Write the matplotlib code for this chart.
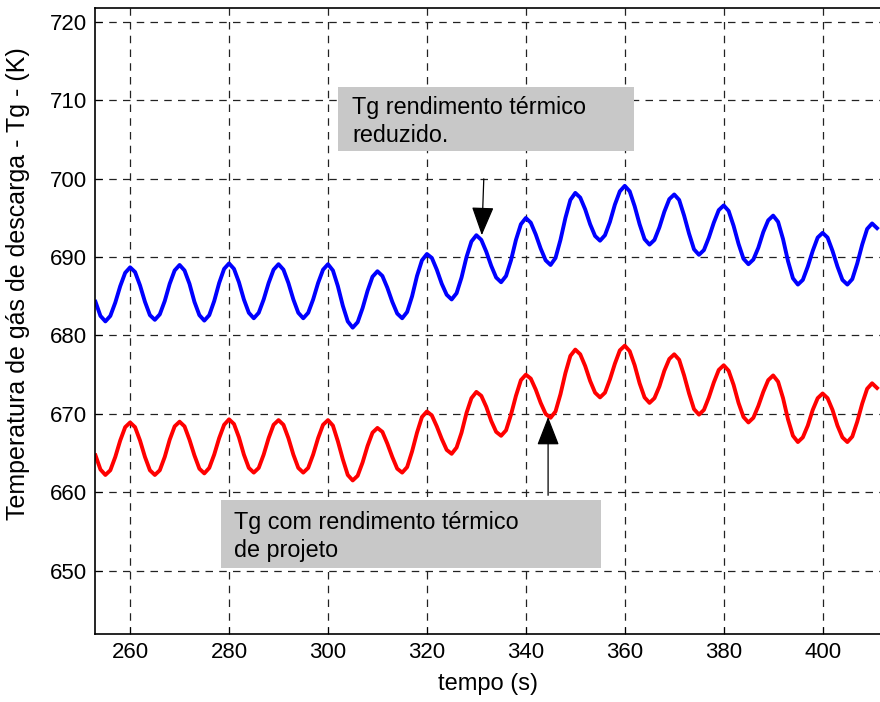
import numpy as np
import matplotlib.pyplot as plt
from matplotlib.patches import Rectangle

plt.rcParams['font.family'] = ['Liberation Sans', 'DejaVu Sans']

# tempo (s), amostrado a cada 1 s
tempo = np.arange(253, 412)

# Tg com rendimento termico reduzido (K)
tg_reduzido = [
    684.3, 682.5, 681.8, 682.5, 684.2, 686.3, 688.0, 688.7, 688.1, 686.4,
    684.3, 682.6, 682.0, 682.7, 684.4, 686.6, 688.3, 689.0, 688.3, 686.6,
    684.3, 682.6, 681.9, 682.6, 684.4, 686.7, 688.5, 689.2, 688.5, 686.8,
    684.6, 682.9, 682.2, 682.9, 684.6, 686.7, 688.4, 689.1, 688.4, 686.7,
    684.6, 682.9, 682.2, 682.9, 684.6, 686.7, 688.4, 689.1, 688.3, 686.3,
    683.8, 681.8, 681.0, 681.7, 683.5, 685.7, 687.5, 688.2, 687.6, 686.1,
    684.3, 682.8, 682.2, 683.0, 685.0, 687.6, 689.6, 690.4, 689.9, 688.4,
    686.6, 685.2, 684.6, 685.4, 687.4, 690.0, 692.0, 692.8, 692.2, 690.7,
    688.9, 687.4, 686.8, 687.6, 689.6, 692.2, 694.2, 695.0, 694.4, 692.9,
    691.1, 689.6, 689.0, 689.9, 692.2, 695.0, 697.3, 698.2, 697.6, 696.1,
    694.2, 692.7, 692.1, 692.8, 694.5, 696.7, 698.4, 699.1, 698.4, 696.5,
    694.2, 692.3, 691.6, 692.2, 693.8, 695.8, 697.4, 698.0, 697.3, 695.3,
    693.0, 691.0, 690.3, 690.9, 692.5, 694.4, 696.0, 696.6, 695.9, 694.0,
    691.7, 689.8, 689.1, 689.7, 691.2, 693.2, 694.7, 695.3, 694.5, 692.3,
    689.5, 687.3, 686.5, 687.1, 688.8, 690.8, 692.5, 693.1, 692.5, 690.8,
    688.8, 687.1, 686.5, 687.2, 689.2, 691.6, 693.6, 694.3, 693.7,
]

# Tg com rendimento termico de projeto (K)
tg_projeto = [
    664.7, 662.9, 662.2, 662.8, 664.5, 666.6, 668.3, 668.9, 668.3, 666.6,
    664.5, 662.8, 662.2, 662.8, 664.5, 666.7, 668.4, 669.0, 668.4, 666.7,
    664.7, 663.0, 662.4, 663.1, 664.8, 666.9, 668.6, 669.3, 668.7, 667.0,
    664.8, 663.1, 662.5, 663.1, 664.8, 666.9, 668.6, 669.2, 668.6, 666.9,
    664.8, 663.1, 662.5, 663.1, 664.8, 666.9, 668.6, 669.2, 668.5, 666.5,
    664.2, 662.2, 661.5, 662.1, 663.8, 665.9, 667.6, 668.2, 667.7, 666.2,
    664.5, 663.0, 662.5, 663.2, 665.2, 667.6, 669.6, 670.3, 669.8, 668.4,
    666.8, 665.4, 664.9, 665.7, 667.6, 670.1, 672.0, 672.8, 672.3, 670.9,
    669.1, 667.7, 667.2, 667.9, 669.9, 672.3, 674.3, 675.0, 674.5, 673.1,
    671.4, 670.0, 669.5, 670.3, 672.5, 675.2, 677.4, 678.2, 677.6, 676.1,
    674.2, 672.7, 672.1, 672.7, 674.4, 676.4, 678.1, 678.7, 678.0, 676.2,
    673.9, 672.1, 671.4, 672.0, 673.5, 675.5, 677.0, 677.6, 676.9, 674.9,
    672.6, 670.6, 669.9, 670.5, 672.1, 674.0, 675.6, 676.2, 675.5, 673.7,
    671.4, 669.6, 668.9, 669.5, 671.0, 672.8, 674.3, 674.9, 674.1, 672.0,
    669.3, 667.2, 666.4, 667.0, 668.5, 670.5, 672.0, 672.6, 672.0, 670.5,
    668.5, 667.0, 666.4, 667.1, 669.0, 671.3, 673.2, 673.9, 673.3,
]

fig = plt.figure(figsize=(8.8, 7.02), dpi=100)
ax = fig.add_axes([95 / 880, 68 / 702, 785 / 880, 626 / 702])

ax.plot(tempo, tg_reduzido, color='#0000ff', lw=2.8)
ax.plot(tempo, tg_projeto, color='#ff0000', lw=2.8)

ax.set_xlim(252.9, 411.6)
ax.set_ylim(641.9, 721.8)
ax.set_xticks(np.arange(260, 401, 20))
ax.set_yticks(np.arange(650, 721, 10))
ax.tick_params(direction='in', length=5, labelsize=16, pad=6)
ax.grid(True, color='#222222', lw=0.9, linestyle=(0, (6, 5)))
ax.spines['right'].set_visible(False)
for s in ['left', 'bottom', 'top']:
    ax.spines[s].set_linewidth(1.2)

ax.set_xlabel('tempo (s)', fontsize=17, labelpad=7)
ax.set_ylabel('Temperatura de gás de descarga - Tg - (K)', fontsize=18)
ax.yaxis.set_label_coords(-0.083, 0.56)

# caixas de anotacao (coordenadas da figura)
def caixa(x0, y0, x1, y1, linhas, tx, ty):
    fig.patches.append(Rectangle((x0 / 880, 1 - y1 / 702), (x1 - x0) / 880,
                                 (y1 - y0) / 702, transform=fig.transFigure,
                                 facecolor='#c8c8c8', edgecolor='none', zorder=5))
    fig.text(tx / 880, 1 - ty / 702, linhas, fontsize=16.8, va='top', ha='left',
             linespacing=1.3, zorder=6)

caixa(338, 87, 634, 151, 'Tg rendimento térmico\nreduzido.', 352, 96)
caixa(221, 500, 601, 568, 'Tg com rendimento térmico\nde projeto', 234, 511)

seta = dict(arrowstyle='-|>,head_length=0.9,head_width=0.35', color='black',
            lw=0.9, shrinkA=0, shrinkB=0, mutation_scale=20)
ax.annotate('', xy=(331.1, 692.8), xytext=(331.5, 700.0), arrowprops=seta)
ax.annotate('', xy=(344.5, 669.6), xytext=(344.5, 659.6), arrowprops=seta)

fig.savefig('out.png', dpi=100)
